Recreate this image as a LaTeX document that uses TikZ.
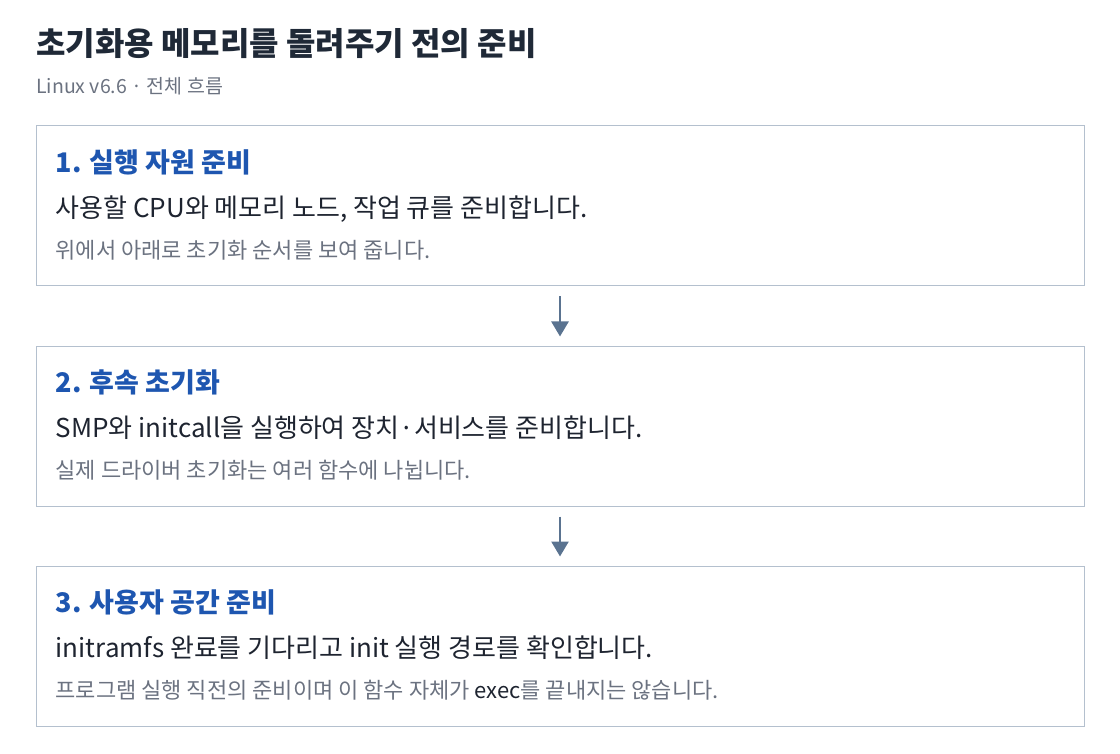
\documentclass[tikz,border=0pt]{standalone}
\usepackage{fontspec}
\setmainfont{Noto Sans CJK KR}
\usetikzlibrary{positioning,arrows.meta}

\definecolor{titleink}{HTML}{1F2937}
\definecolor{subink}{HTML}{6B7280}
\definecolor{headblue}{HTML}{1E56B0}
\definecolor{bodyink}{HTML}{1E2430}
\definecolor{boxline}{HTML}{B4C0CE}
\definecolor{flowline}{HTML}{5A7390}

\begin{document}
\begin{tikzpicture}[x=1pt, y=-1pt,
    box/.style={draw=boxline, line width=1pt, minimum width=1048pt, minimum height=160pt, inner sep=0pt},
    head/.style={anchor=base west, inner sep=0pt, text=headblue, font=\fontsize{27}{31}\selectfont\bfseries},
    body/.style={anchor=base west, inner sep=0pt, text=bodyink, font=\fontsize{26}{30}\selectfont},
    note/.style={anchor=base west, inner sep=0pt, text=subink, font=\fontsize{22}{26}\selectfont},
    flow/.style={draw=flowline, line width=2.5pt, -{Triangle[width=17pt,length=15pt]}, shorten <=10pt, shorten >=9pt}]
    \useasboundingbox (0,0) rectangle (1120,754);

    \node[anchor=base west, inner sep=0pt, text=titleink, font=\fontsize{32}{36}\selectfont\bfseries] (title) at (36,56) {초기화용 메모리를 돌려주기 전의 준비};
    \node[anchor=base west, inner sep=0pt, text=subink, font=\fontsize{19.5}{23}\selectfont] (subtitle) at (36,94) {Linux v6.6 · 전체 흐름};

    \node[box] (s1) at (560,206) {};
    \node[head] (s1_head) at ([xshift=20pt, yshift=-47pt]s1.north west) {1. 실행 자원 준비};
    \node[body] (s1_body) at ([xshift=20pt, yshift=-92pt]s1.north west) {사용할 CPU와 메모리 노드, 작업 큐를 준비합니다.};
    \node[note] (s1_note) at ([xshift=20pt, yshift=-133pt]s1.north west) {위에서 아래로 초기화 순서를 보여 줍니다.};

    \node[box] (s2) at (560,426) {};
    \node[head] (s2_head) at ([xshift=20pt, yshift=-47pt]s2.north west) {2. 후속 초기화};
    \node[body] (s2_body) at ([xshift=20pt, yshift=-92pt]s2.north west) {SMP와 initcall을 실행하여 장치·서비스를 준비합니다.};
    \node[note] (s2_note) at ([xshift=20pt, yshift=-133pt]s2.north west) {실제 드라이버 초기화는 여러 함수에 나뉩니다.};

    \node[box] (s3) at (560,646) {};
    \node[head] (s3_head) at ([xshift=20pt, yshift=-47pt]s3.north west) {3. 사용자 공간 준비};
    \node[body] (s3_body) at ([xshift=20pt, yshift=-92pt]s3.north west) {initramfs 완료를 기다리고 init 실행 경로를 확인합니다.};
    \node[note] (s3_note) at ([xshift=20pt, yshift=-133pt]s3.north west) {프로그램 실행 직전의 준비이며 이 함수 자체가 \textcolor{bodyink}{exec}를 끝내지는 않습니다.};

    \path (s1) edge[flow] (s2);
    \path (s2) edge[flow] (s3);
\end{tikzpicture}
\end{document}
